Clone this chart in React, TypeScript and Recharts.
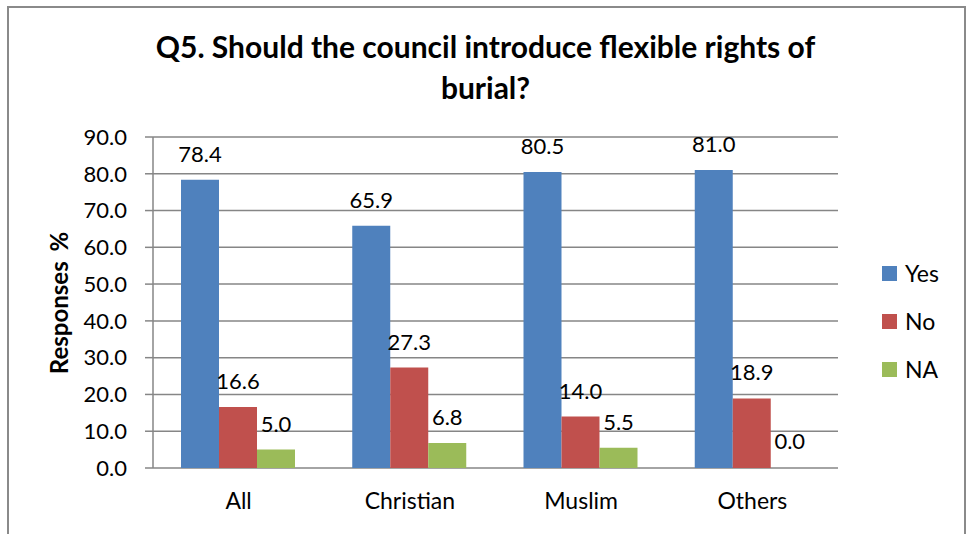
import React from "react";
import { BarChart, Bar, XAxis, YAxis, CartesianGrid, LabelList, Cell } from "recharts";

const categories = ["All", "Christian", "Muslim", "Others"];
const yesValues = [78.4, 65.9, 80.5, 81.0];
const noValues = [16.6, 27.3, 14.0, 18.9];
const naValues = [5.0, 6.8, 5.5, 0.0];
const yTicks = [0, 10, 20, 30, 40, 50, 60, 70, 80, 90];

const seriesInfo = [
  { key: "yes", name: "Yes", color: "#4F81BD", values: yesValues },
  { key: "no", name: "No", color: "#C0504D", values: noValues },
  { key: "na", name: "NA", color: "#9BBB59", values: naValues },
];

const data = categories.map((c, i) => ({
  category: c,
  yes: yesValues[i],
  no: noValues[i],
  na: naValues[i],
}));

const FONT = "Lato, 'Open Sans', sans-serif";
const AXIS_COLOR = "#868686";

// draws the value even when the bar has zero height
const ValueLabel = (props: any) => {
  const { x, y, width, height, value } = props;
  if (value === undefined || value === null) return null;
  const top = Math.min(Number(y), Number(y) + Number(height || 0));
  return (
    <text
      x={Number(x) + Number(width) / 2}
      y={top - 18}
      textAnchor="middle"
      fill="#000"
      fontSize={22}
      fontFamily={FONT}
    >
      {Number(value).toFixed(1)}
    </text>
  );
};

export default function App() {
  return (
    <div
      style={{
        position: "absolute",
        left: 0,
        top: 0,
        width: 967,
        height: 534,
        background: "#fff",
        overflow: "hidden",
        fontFamily: FONT,
      }}
    >
      <div
        style={{
          position: "absolute",
          left: 7,
          top: 6,
          width: 955,
          height: 560,
          border: "2px solid #8a8a8a",
        }}
      />
      <div
        style={{
          position: "absolute",
          left: 7,
          width: 957,
          top: 26,
          textAlign: "center",
          fontWeight: "bold",
          fontSize: 30,
          lineHeight: "41px",
          color: "#000",
        }}
      >
        Q5. Should the council introduce flexible rights of
        <br />
        burial?
      </div>
      <div
        style={{
          position: "absolute",
          left: 58,
          top: 303,
          transform: "translate(-50%, -50%) rotate(-90deg)",
          whiteSpace: "nowrap",
          fontWeight: "bold",
          fontSize: 24,
          wordSpacing: 4,
          color: "#000",
        }}
      >
        Responses %
      </div>
      <div
        style={{
          position: "absolute",
          left: 882,
          top: 249,
          fontSize: 23,
          color: "#000",
        }}
      >
        {seriesInfo.map((s) => (
          <div
            key={s.key}
            style={{ display: "flex", alignItems: "center", height: 48 }}
          >
            <span
              style={{
                display: "inline-block",
                width: 15,
                height: 15,
                background: s.color,
                marginRight: 8,
              }}
            />
            <span>{s.name}</span>
          </div>
        ))}
      </div>
      <BarChart
        width={967}
        height={534}
        data={data}
        margin={{ top: 137, right: 129, bottom: 26, left: 0 }}
        barCategoryGap={28}
        barGap={0}
        style={{ position: "absolute", left: 0, top: 0 }}
      >
        <CartesianGrid
          xAxisId="cat"
          vertical={false}
          stroke={AXIS_COLOR}
          strokeWidth={1.5}
        />
        <XAxis
          xAxisId="edges"
          type="number"
          domain={[0, 4]}
          ticks={[0, 1, 2, 3, 4]}
          allowDataOverflow
          height={0}
          tick={false}
          tickSize={8}
          axisLine={{ stroke: AXIS_COLOR, strokeWidth: 1.5 }}
          tickLine={{ stroke: AXIS_COLOR, strokeWidth: 1.5 }}
        />
        <XAxis
          xAxisId="cat"
          dataKey="category"
          height={40}
          axisLine={false}
          tickLine={false}
          tickSize={0}
          tickMargin={25}
          tick={{ fill: "#000", fontSize: 23, fontFamily: FONT }}
        />
        <YAxis
          width={153}
          domain={[0, 90]}
          ticks={yTicks}
          interval={0}
          tickFormatter={(v: number) => v.toFixed(1)}
          tickSize={8}
          tickMargin={18}
          axisLine={{ stroke: AXIS_COLOR, strokeWidth: 1.5 }}
          tickLine={{ stroke: AXIS_COLOR, strokeWidth: 1.5 }}
          tick={{ fill: "#000", fontSize: 22, fontFamily: FONT }}
        />
        {seriesInfo.map((s) => (
          <Bar
            key={s.key}
            xAxisId="cat"
            dataKey={s.key}
            name={s.name}
            fill={s.color}
            minPointSize={1}
            isAnimationActive={false}
          >
            {s.values.map((v, i) => (
              <Cell key={i} fill={v === 0 ? "none" : s.color} />
            ))}
            <LabelList dataKey={s.key} content={ValueLabel} />
          </Bar>
        ))}
      </BarChart>
    </div>
  );
}
